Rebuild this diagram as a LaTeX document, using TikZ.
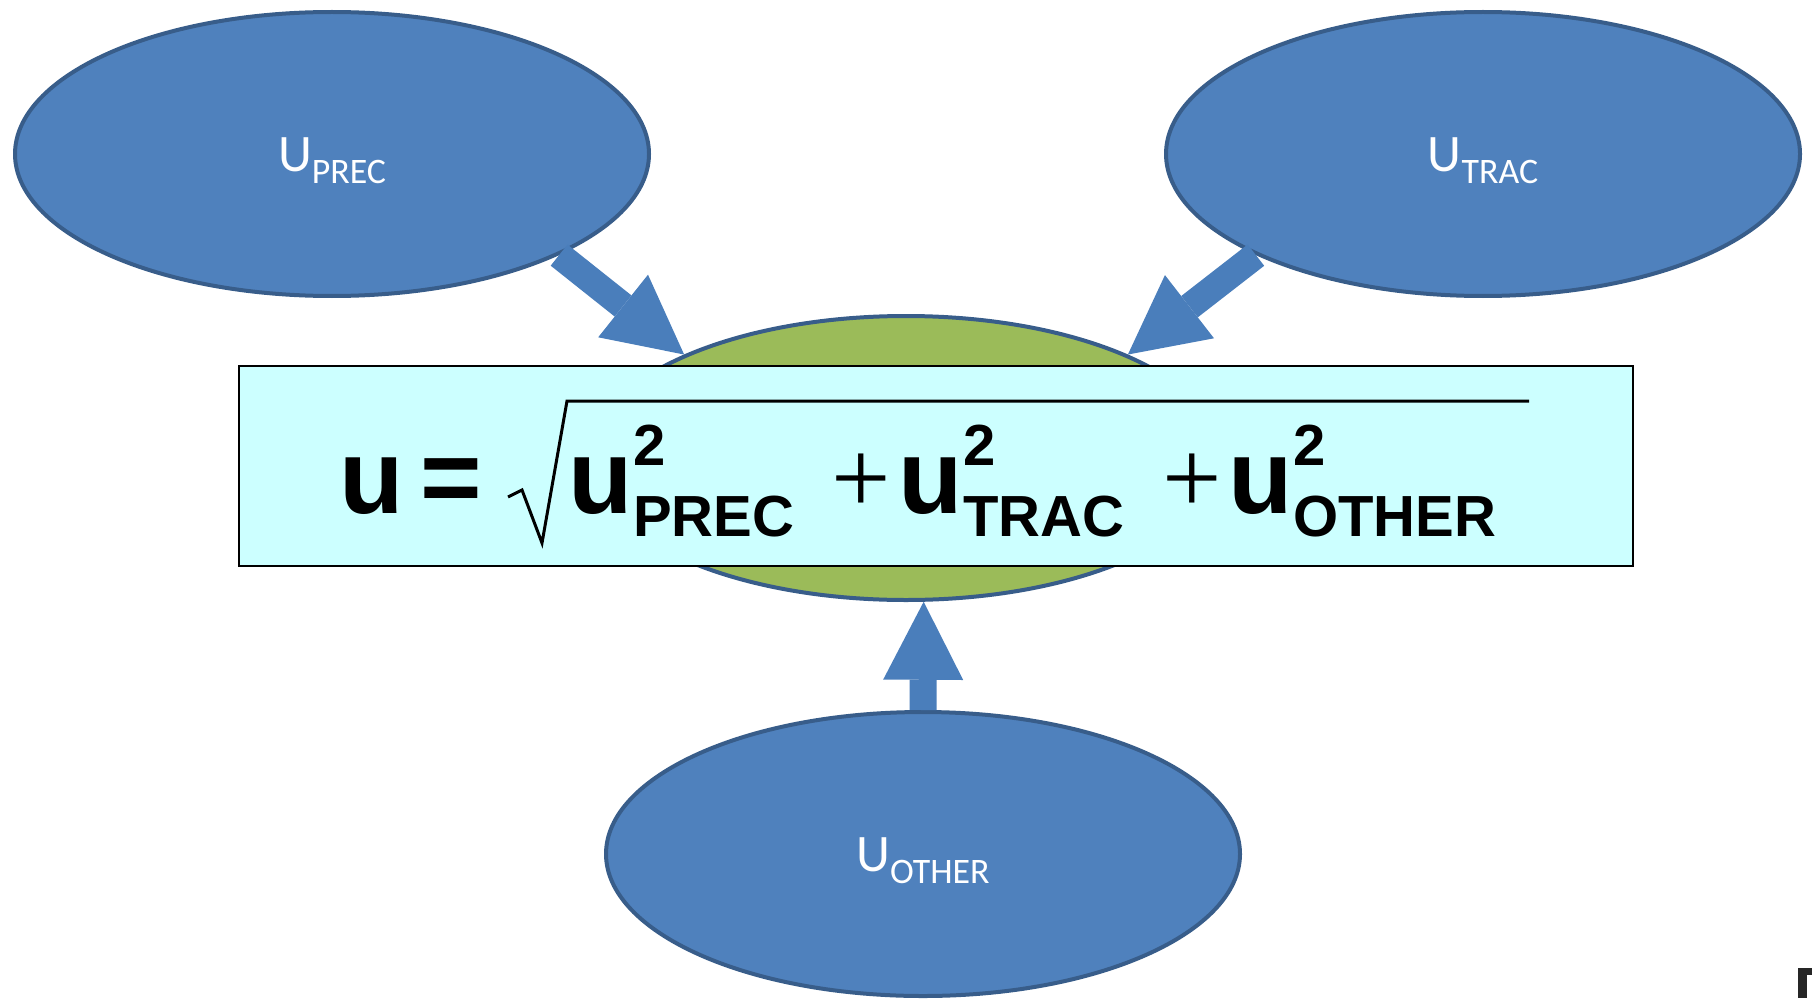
\documentclass[tikz,border=0pt]{standalone}
\usepackage{fontspec}
\usetikzlibrary{arrows.meta,shapes.geometric}
\newfontfamily\lblfont{Carlito}
\newfontfamily\eqfont{Liberation Sans}
\newfontfamily\plusfont{Liberation Serif}
\definecolor{ublue}{HTML}{4F81BD}
\definecolor{uedge}{HTML}{385D8A}
\definecolor{arrowblue}{HTML}{4A7EBB}
\definecolor{sumgreen}{HTML}{9BBB59}
\definecolor{eqcyan}{HTML}{CCFFFF}
\newcommand\ulbl[1]{\rule{0pt}{13.7pt}U\raisebox{-3.4pt}{\fontsize{10.2}{12}\selectfont #1}}
\newcommand\uterm[1]{u\rlap{\raisebox{13.4pt}{\fontsize{16.5}{19}\selectfont 2}}\raisebox{-6.8pt}{\fontsize{16.5}{19}\selectfont #1}}
\begin{document}
\begin{tikzpicture}[x=0.1mm,y=-0.1mm,every node/.style={inner sep=0pt},
 src/.style={ellipse,draw=uedge,line width=0.4mm,fill=ublue,minimum width=63.4mm,
  minimum height=28.4mm,text=white,font=\lblfont\fontsize{15}{18}\selectfont},
 fat/.style={draw=arrowblue,line width=2.7mm,-{Triangle[length=7.8mm,width=8mm,line width=0pt]}},
 eqbox/.style={draw,fill=eqcyan,line width=0.2mm,minimum width=139.4mm,minimum height=20mm},
 eqtxt/.style={anchor=base west,font=\eqfont\bfseries\fontsize{30}{36}\selectfont},
 plus/.style={anchor=base west,font=\plusfont\fontsize{30}{36}\selectfont}]
\useasboundingbox (0,0) rectangle (1812,998);
\node[src](prec) at (332,154){\ulbl{PREC}};
\node[src](trac) at (1483,154){\ulbl{TRAC}};
\node[src](other) at (923,854){\ulbl{OTHER}};
\node[src,fill=sumgreen](sum) at (906,458){};
\node[eqbox](box) at (936,466){};
\draw[fat](prec.-24)--(sum.155);
\draw[fat](trac.-156)--(sum.25);
\draw[fat](other.90)--(sum.-83);
% the formula
\node[eqtxt](lhs) at (339,513){u};
\node[eqtxt](eq) at (420,513){=};
\node[eqtxt](t1) at (568,513){\uterm{PREC}};
\node[plus](p1) at (831,513){+};
\node[eqtxt](t2) at (898,513){\uterm{TRAC}};
\node[plus](p2) at (1162,513){+};
\node[eqtxt](t3) at (1228,513){\uterm{OTHER}};
\draw[line width=0.3mm](508,497)--(522,490)--(542,543)--(567,401)--(1529,401);
% cut-off mark in the corner
\fill[black!85](1798,968) rectangle (1812,998);
\fill[white](1807,975) rectangle (1812,998);
\end{tikzpicture}
\end{document}
